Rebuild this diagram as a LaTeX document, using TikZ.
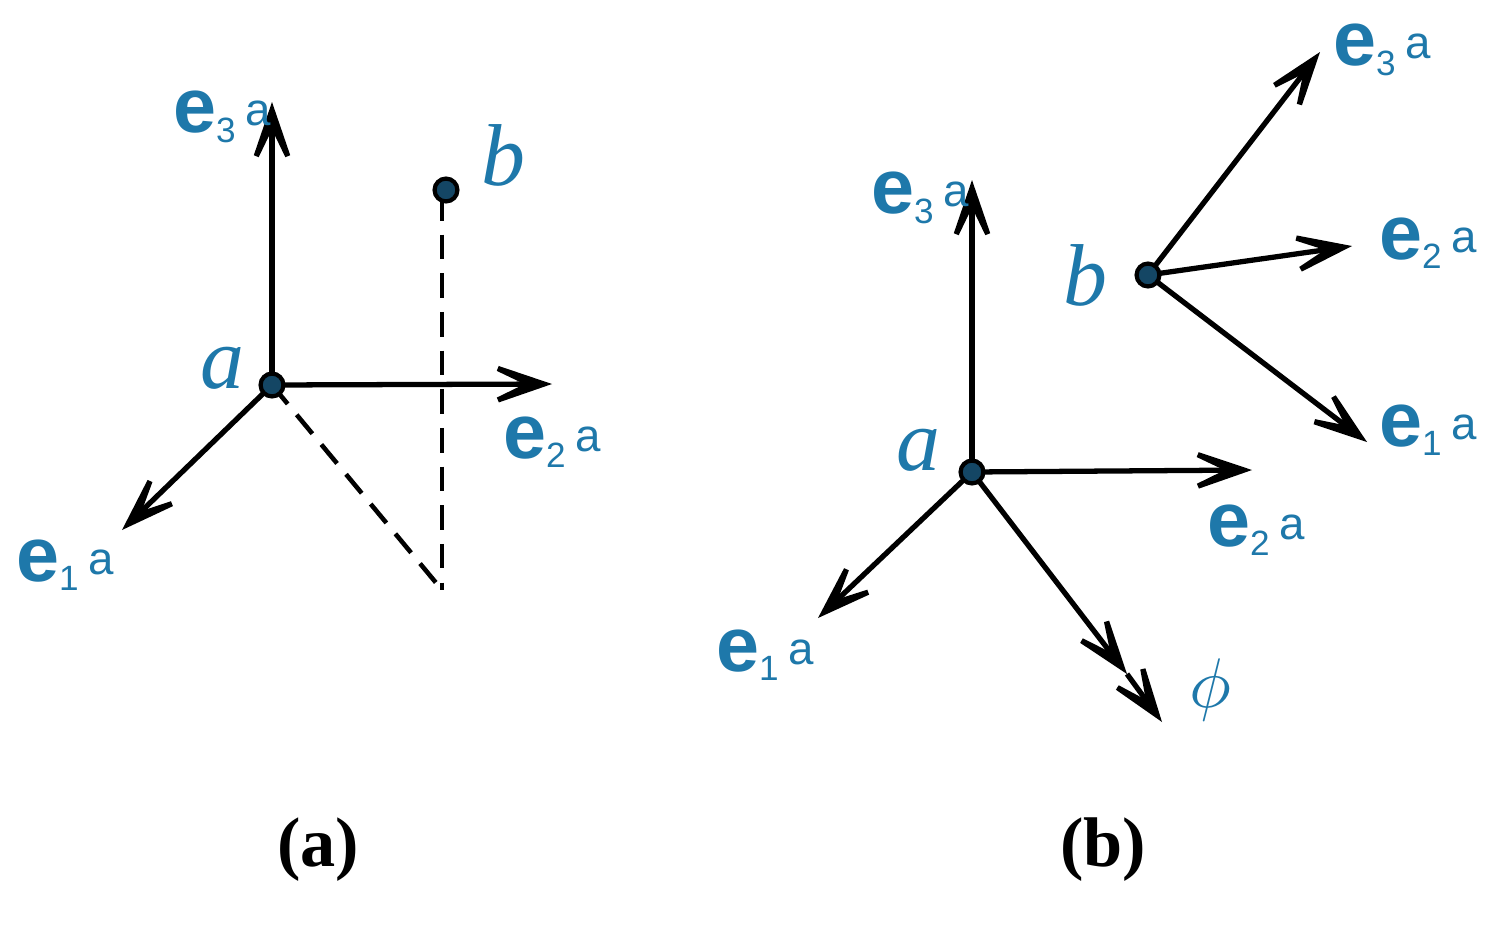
\documentclass[tikz,border=0pt]{standalone}
\usepackage{fontspec}
\setmainfont{Liberation Serif}
\newfontfamily\labfont{Liberation Sans}
\usetikzlibrary{arrows.meta}
\definecolor{lb}{RGB}{30,120,170}
\definecolor{db}{RGB}{20,70,100}
\newcommand{\evec}[1]{{\labfont\bfseries e\textsubscript{\mdseries\fontsize{20}{20}\selectfont #1}\hspace{5pt}\raisebox{4pt}{\mdseries\fontsize{26}{26}\selectfont a}}}
\tikzset{myarrow/.tip={Stealth[length=19mm,width=13mm,inset=13.5mm,fill=db]}}
\begin{document}
\begin{tikzpicture}[x=0.02cm,y=-0.02cm,
  vec/.style={line width=3pt,-myarrow},
  dsh/.style={line width=2.6pt,dash pattern=on 14pt off 8pt},
  lab/.style={text=lb,font=\fontsize{44}{44}\selectfont,inner sep=0pt},
  it/.style={text=lb,font=\fontsize{50}{50}\selectfont\itshape,inner sep=0pt},
  captext/.style={font=\fontsize{40}{40}\selectfont\bfseries,inner sep=0pt},
  dot/.style={circle,fill=db,draw=black,line width=2.4pt,minimum size=13pt,inner sep=0pt}]
\useasboundingbox (0,0) rectangle (1497,927);
% panel a
\coordinate (A1) at (272,385);
\coordinate (A3) at (272,102);
\coordinate (A2) at (552,384);
\coordinate (Ae1) at (122,530);
\coordinate (Af) at (442,590);
\coordinate (Bv) at (442,196);
\draw[dsh] (A1) -- (Af);
\draw[dsh] (Bv) -- (Af);
\draw[vec] (A1) -- (A3);
\draw[vec] (A1) -- (A2);
\draw[vec] (A1) -- (Ae1);
\node[dot] (Ab) at (446,190) {};
\node[dot] (Aa) at (A1) {};
\node[it] (la) at (222,368) {a};
\node[it] (lb) at (503,155) {b};
\node[lab] (l3) at (222,117) {\evec{3}};
\node[lab] (l2) at (552,442) {\evec{2}};
\node[lab] (l1) at (65,565) {\evec{1}};
\node[captext] (ca) at (318,850) {(a)};
% panel b
\coordinate (B1) at (972,472);
\coordinate (B3) at (972,180);
\coordinate (B2) at (1252,470);
\coordinate (Be1) at (818,618);
\coordinate (Bp) at (1162,722);
\coordinate (Bp2) at (1127,674);
\draw[vec] (B1) -- (B3);
\draw[vec] (B1) -- (B2);
\draw[vec] (B1) -- (Be1);
\draw[vec] (B1) -- (Bp2);
\draw[vec] (Bp2) -- (Bp);
\node[dot] (Ba) at (B1) {};
\coordinate (Bb0) at (1148,275);
\coordinate (Bb3) at (1320,52);
\coordinate (Bb2) at (1352,246);
\coordinate (Bb1) at (1367,442);
\draw[vec] (Bb0) -- (Bb3);
\draw[vec] (Bb0) -- (Bb2);
\draw[vec] (Bb0) -- (Bb1);
\node[dot] (Bb) at (Bb0) {};
\node[it] (lba) at (918,450) {a};
\node[it] (lbb) at (1085,275) {b};
\node[text=lb,inner sep=0pt] (lphi) at (1210,690) {\scalebox{4}{$\phi$}};
\node[lab] (m3) at (920,198) {\evec{3}};
\node[lab] (m2) at (1256,530) {\evec{2}};
\node[lab] (m1) at (765,655) {\evec{1}};
\node[lab] (n3) at (1382,50) {\evec{3}};
\node[lab] (n2) at (1428,243) {\evec{2}};
\node[lab] (n1) at (1428,430) {\evec{1}};
\node[captext] (cb) at (1103,850) {(b)};
\end{tikzpicture}
\end{document}
